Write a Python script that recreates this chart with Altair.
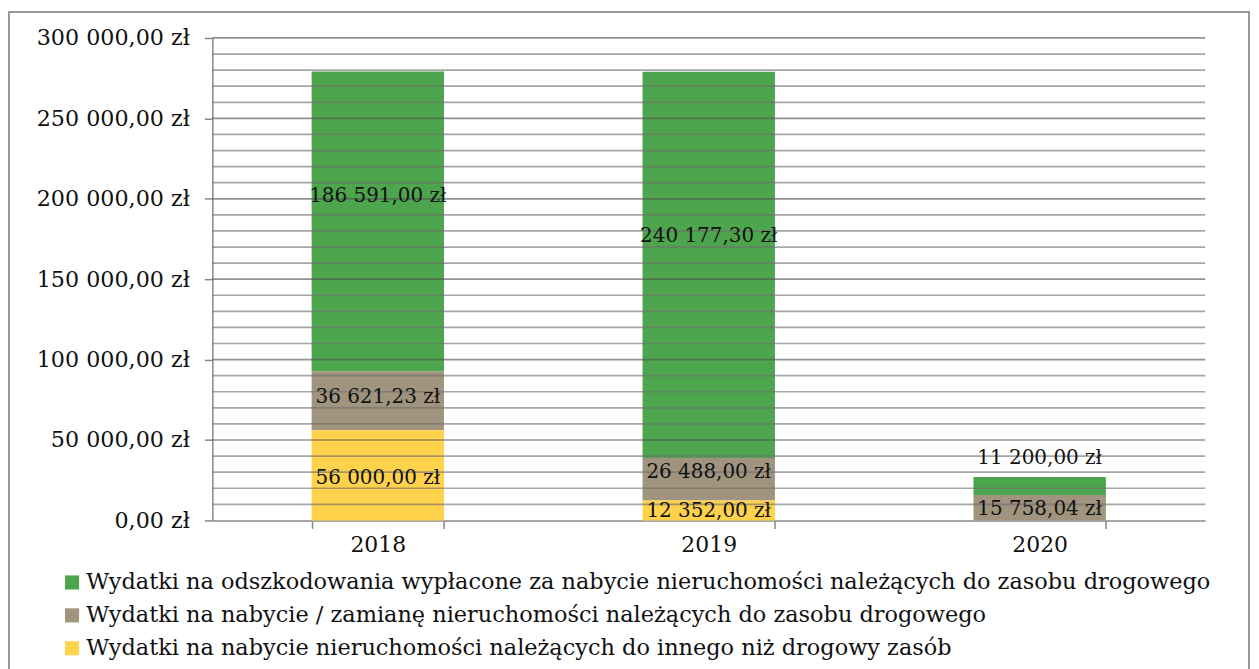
import altair as alt
import pandas as pd

years = ["2018", "2019", "2020"]
series = [
    "Wydatki na odszkodowania wypłacone za nabycie nieruchomości należących do zasobu drogowego",
    "Wydatki na nabycie / zamianę nieruchomości należących do zasobu drogowego",
    "Wydatki na nabycie nieruchomości należących do innego niż drogowy zasób",
]
colors = ["#4DA64D", "#A0947E", "#FFD24C"]
stack_order = [2, 1, 0]

odszkodowania = [186591.00, 240177.30, 11200.00]
zamiana = [36621.23, 26488.00, 15758.04]
inny_zasob = [56000.00, 12352.00, 0.0]

# label anchor heights (data units)
label_y_odszk = [202000, 176700, 39000]
label_y_zamiana = [76900, 30400, 6800]
label_y_inny = [26600, 5600, None]

grid_values = list(range(10000, 300001, 10000))
major_ticks = list(range(0, 300001, 50000))


def fmt(v):
    s = f"{v:,.2f}"
    return s.replace(",", " ").replace(".", ",") + " zł"


rows = []
labels = []
for si, (name, vals, ly) in enumerate(zip(series, [odszkodowania, zamiana, inny_zasob],
                                          [label_y_odszk, label_y_zamiana, label_y_inny])):
    for yi, yr in enumerate(years):
        if vals[yi] > 0:
            rows.append({"rok": yr, "seria": name, "wartosc": vals[yi], "ord": stack_order[si]})
            labels.append({"rok": yr, "txt": fmt(vals[yi]), "ly": ly[yi]})

df = pd.DataFrame(rows)
lab = pd.DataFrame(labels)
grid = pd.DataFrame({"g": grid_values, "major": [v % 50000 == 0 for v in grid_values]})

FONT = "DejaVu Serif"
yscale = alt.Scale(domain=[0, 300000], nice=False)
xscale = alt.Scale(paddingInner=0.6, paddingOuter=0.3)

bars = alt.Chart(df).mark_bar().encode(
    x=alt.X("rok:N", scale=xscale, sort=years, title=None,
            axis=alt.Axis(labelAngle=0, tickBand="extent", tickSize=8, tickColor="#888888",
                          domainColor="#888888", domainWidth=1.5, tickWidth=1.5,
                          labelFont=FONT, labelFontSize=22, labelColor="#111111",
                          labelPadding=6, grid=False)),
    y=alt.Y("wartosc:Q", stack="zero", scale=yscale, title=None,
            axis=alt.Axis(values=major_ticks, tickSize=8, tickColor="#888888", tickWidth=1.5,
                          domainColor="#888888", domainWidth=1.5, grid=False,
                          labelFont=FONT, labelFontSize=22.3, labelColor="#111111", labelPadding=15,
                          labelExpr="datum.value == 0 ? '0,00 zł' : format(datum.value / 1000, 'd') + ' 000,00 zł'")),
    color=alt.Color("seria:N", scale=alt.Scale(domain=series, range=colors),
                    legend=alt.Legend(title=None, orient="none", legendX=-152, legendY=535,
                                      symbolType="square", symbolSize=200, symbolStrokeWidth=0,
                                      labelFont=FONT, labelFontSize=22.5, labelColor="#111111",
                                      labelLimit=2000, rowPadding=10, labelOffset=3, padding=0)),
    order=alt.Order("ord:Q"),
)

gridlines = alt.Chart(grid).mark_rule(strokeWidth=1.7).encode(
    y=alt.Y("g:Q", scale=yscale, title=None),
    color=alt.condition("datum.major", alt.value("#505050"), alt.value("#707070")),
    opacity=alt.value(0.62),
)

texts = alt.Chart(lab).mark_text(font=FONT, fontSize=20, color="#111111", baseline="middle").encode(
    x=alt.X("rok:N", scale=xscale, sort=years, title=None),
    y=alt.Y("ly:Q", scale=yscale, title=None),
    text="txt:N",
)

frame = alt.Chart(pd.DataFrame({"a": [0]})).mark_rect(fill="transparent", stroke="#999999", strokeWidth=2).encode(
    x=alt.value(-204), x2=alt.value(1040), y=alt.value(-26), y2=alt.value(700)
)

chart = alt.layer(bars, gridlines, texts, frame).properties(
    width=996, height=484,
    autosize=alt.AutoSizeParams(type="none"),
    padding={"left": 205, "top": 29, "right": 46, "bottom": 150},
).configure_view(stroke="transparent")

chart.save("out.html", embed_options={"renderer": "svg", "actions": False})
